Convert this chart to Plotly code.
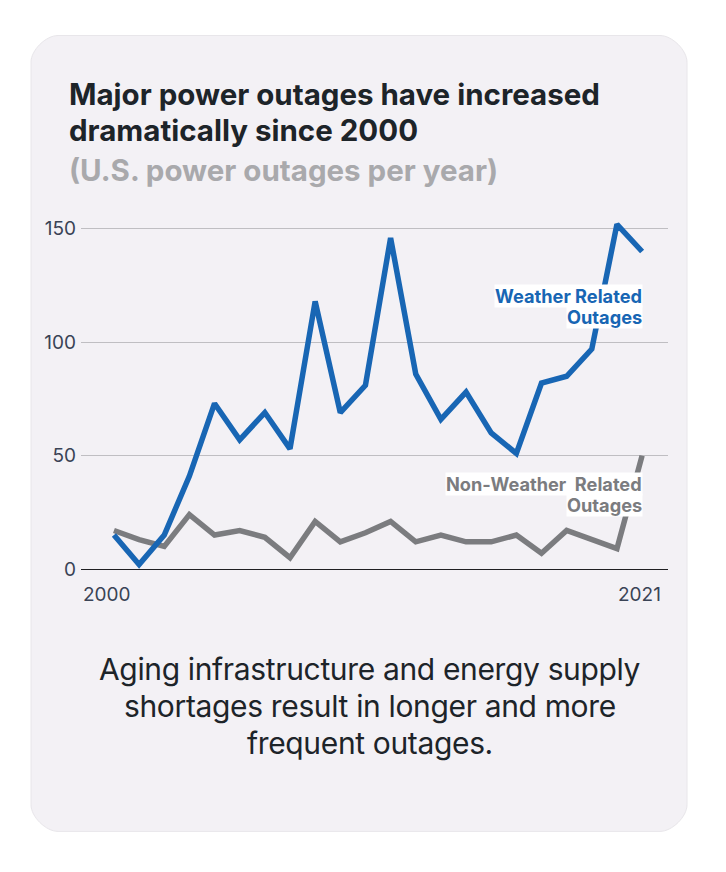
import plotly.graph_objects as go

# ------------------------------------------------------------------------------------------------
# data

years = [2000, 2001, 2002, 2003, 2004, 2005, 2006, 2007, 2008, 2009, 2010,
         2011, 2012, 2013, 2014, 2015, 2016, 2017, 2018, 2019, 2020, 2021]

weather_related = [15, 2, 15, 41, 73, 57, 69, 53, 118, 69, 81,
                   146, 86, 66, 78, 60, 51, 82, 85, 97, 152, 140]

non_weather_related = [17, 13, 10, 24, 15, 17, 14, 5, 21, 12, 16,
                       21, 12, 15, 12, 12, 15, 7, 17, 13, 9, 50]

y_ticks = [0, 50, 100, 150]
x_tick_labels = ['2000', '2021']

title_lines = ['Major power outages have increased', 'dramatically since 2000']
subtitle = '(U.S. power outages per year)'
footer_lines = ['Aging infrastructure and energy supply',
                'shortages result in longer and more',
                'frequent outages.']

# ------------------------------------------------------------------------------------------------
# layout helpers (pixel -> paper, margins are zero so paper == whole figure)

W, H = 726, 872

def px(x):
    return x / W

def py(y):
    return 1 - y / H

def tight(text, spacing):
    return f'<span style="letter-spacing:{spacing}px">{text}</span>'

BLUE = '#1866b4'
GREY = '#7b7c7f'
DARK = '#1d2429'
TICK = '#3a4355'
FONT = 'Inter'

fig = go.Figure()

fig.add_trace(go.Scatter(x=years, y=non_weather_related, mode='lines',
                         line=dict(color=GREY, width=5.5), hoverinfo='skip'))
fig.add_trace(go.Scatter(x=years, y=weather_related, mode='lines',
                         line=dict(color=BLUE, width=5.5), hoverinfo='skip'))

# card behind everything
x0, y0, x1, y1, r = 31, 36, 687, 843, 27
k = 0.45 * r
card = (f'M {px(x0 + r)} {py(y0)} L {px(x1 - r)} {py(y0)} '
        f'C {px(x1 - r + k)} {py(y0)} {px(x1)} {py(y0 + r - k)} {px(x1)} {py(y0 + r)} '
        f'L {px(x1)} {py(y1 - r)} '
        f'C {px(x1)} {py(y1 - r + k)} {px(x1 - r + k)} {py(y1)} {px(x1 - r)} {py(y1)} '
        f'L {px(x0 + r)} {py(y1)} '
        f'C {px(x0 + r - k)} {py(y1)} {px(x0)} {py(y1 - r + k)} {px(x0)} {py(y1 - r)} '
        f'L {px(x0)} {py(y0 + r)} '
        f'C {px(x0)} {py(y0 + r - k)} {px(x0 + r - k)} {py(y0)} {px(x0 + r)} {py(y0)} Z')
fig.add_shape(type='path', path=card, xref='paper', yref='paper', layer='below',
              fillcolor='#f3f1f5', line=dict(color='#e8e6ea', width=1))

annotations = []

# title block
for text, yc in zip(title_lines, [95, 132]):
    annotations.append(dict(text=text, x=px(67), y=py(yc), xref='paper', yref='paper',
                            xanchor='left', yanchor='middle', showarrow=False,
                            font=dict(family=FONT, size=29.5, color=DARK, weight='bold')))
annotations.append(dict(text=subtitle, x=px(67), y=py(172), xref='paper', yref='paper',
                        xanchor='left', yanchor='middle', showarrow=False,
                        font=dict(family=FONT, size=29.5, color='#a9a9ac', weight='bold')))

# footer
for text, yc in zip(footer_lines, [678, 716, 753]):
    annotations.append(dict(text=tight(text, -0.35), x=px(370), y=py(yc), xref='paper', yref='paper',
                            xanchor='center', yanchor='middle', showarrow=False,
                            font=dict(family=FONT, size=30, color=DARK)))

# series labels, one box per line
labels = [('Weather Related', 300, BLUE), ('Outages', 321, BLUE),
          ('Non-Weather\u00a0 Related', 491, GREY), ('Outages', 512, GREY)]
for text, yc, col in labels:
    annotations.append(dict(text=text, x=px(643), y=py(yc), xref='paper', yref='paper',
                            xanchor='right', yanchor='middle', showarrow=False,
                            bgcolor='white', borderpad=0,
                            font=dict(family=FONT, size=18.2, color=col, weight='bold')))

# x end labels
annotations.append(dict(text=x_tick_labels[0], x=0, y=py(602.5), xref='x domain', yref='paper',
                        xanchor='left', yanchor='middle', showarrow=False,
                        font=dict(family=FONT, size=19, color=TICK)))
annotations.append(dict(text=x_tick_labels[1], x=1, y=py(602.5), xref='x domain', yref='paper',
                        xanchor='right', xshift=-5, yanchor='middle', showarrow=False,
                        font=dict(family=FONT, size=19, color=TICK)))

fig.update_layout(
    width=W, height=H,
    margin=dict(l=0, r=0, t=0, b=0),
    paper_bgcolor='white',
    plot_bgcolor='rgba(0,0,0,0)',
    showlegend=False,
    annotations=annotations,
    xaxis=dict(domain=[px(81), px(668)], range=[1998.69, 2022.03],
               showgrid=False, zeroline=False, showticklabels=False,
               showline=False, fixedrange=True),
    yaxis=dict(domain=[py(577), py(209)], range=[0, 160],
               tickvals=y_ticks, showgrid=True, gridcolor='#bfbec2', gridwidth=1,
               zeroline=True, zerolinecolor='#1f1f22', zerolinewidth=1.3,
               ticks='', ticklabelstandoff=4,
               tickfont=dict(family=FONT, size=19, color=TICK),
               showline=False, fixedrange=True),
)

# body margin would push the figure 8px right/down
fig.write_html('out.html', config={'displayModeBar': False},
               post_script="document.body.style.margin='0';")
